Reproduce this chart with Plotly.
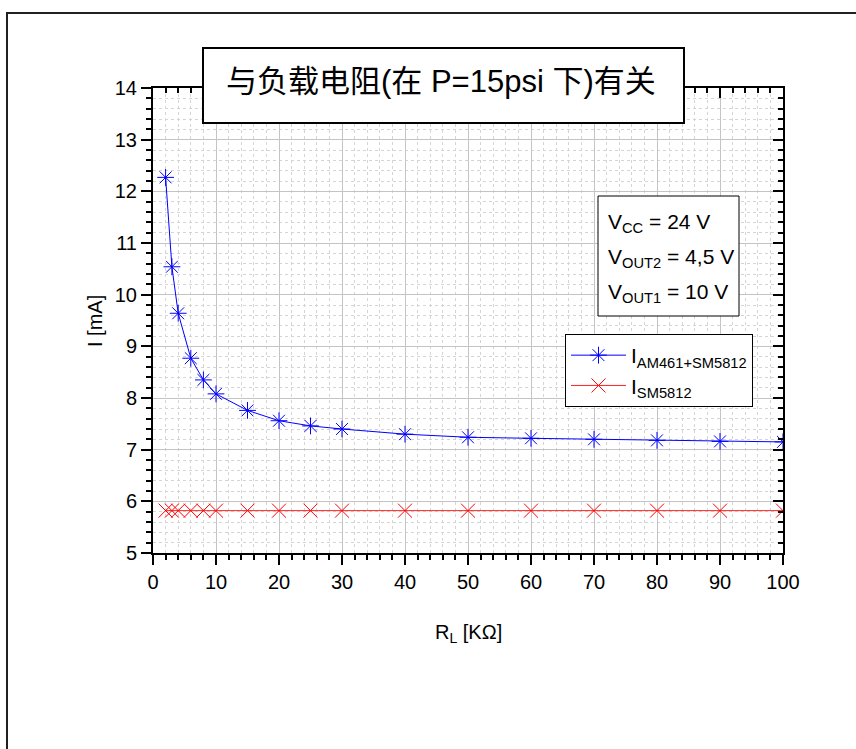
import plotly.graph_objects as go

# ---- data ----
r_load = [2, 3, 4, 6, 8, 10, 15, 20, 25, 30, 40, 50, 60, 70, 80, 90, 100]
i_am461_sm5812 = [12.27, 10.54, 9.64, 8.77, 8.35, 8.08, 7.76, 7.56, 7.46, 7.40,
                  7.30, 7.24, 7.22, 7.20, 7.18, 7.16, 7.15]
i_sm5812 = [5.82] * len(r_load)

x_ticks = [0, 10, 20, 30, 40, 50, 60, 70, 80, 90, 100]
y_ticks = [5, 6, 7, 8, 9, 10, 11, 12, 13, 14]

title_text = "与负载电阻(在 P=15psi 下)有关"
x_title = "R<sub>L</sub> [KΩ]"
y_title = "I [mA]"
info_lines = ["V<sub>CC</sub> = 24 V", "V<sub>OUT2</sub> = 4,5 V", "V<sub>OUT1</sub> = 10 V"]

W, H = 856, 749
ML, MR, MT, MB = 153, 73, 88, 196
PW, PH = W - ML - MR, H - MT - MB

def px(xp):
    return (xp - ML) / PW

def py(yp):
    return (H - MB - yp) / PH

FONT = "Liberation Sans, Arial, Noto Sans CJK SC, sans-serif"

fig = go.Figure()
fig.add_trace(go.Scatter(
    x=r_load, y=i_am461_sm5812, mode="lines+markers",
    name="I<sub>AM461+SM5812</sub>",
    line=dict(color="#0000ff", width=1),
    marker=dict(symbol="asterisk-open", size=14, color="#0000ff",
                line=dict(color="#0000ff", width=1)),
))
fig.add_trace(go.Scatter(
    x=r_load, y=i_sm5812, mode="lines+markers",
    name="I<sub>SM5812</sub>",
    line=dict(color="#ff2020", width=1),
    marker=dict(symbol="x-thin-open", size=14, color="#ff0000",
                line=dict(color="#ff0000", width=1)),
))
# empty traces to realise mirrored (top/right) axes with inward ticks
fig.add_trace(go.Scatter(x=[None], y=[None], xaxis="x2", yaxis="y", showlegend=False, hoverinfo="skip"))
fig.add_trace(go.Scatter(x=[None], y=[None], xaxis="x", yaxis="y2", showlegend=False, hoverinfo="skip"))

axis_common = dict(showline=True, linecolor="black", linewidth=2,
                   tickcolor="black", tickwidth=2, ticklen=10,
                   tickfont=dict(family=FONT, size=20, color="black"),
                   zeroline=False)

fig.update_layout(
    width=W, height=H,
    margin=dict(l=ML, r=MR, t=MT, b=MB),
    paper_bgcolor="white", plot_bgcolor="white",
    font=dict(family=FONT, color="black"),
    showlegend=True,
    xaxis=dict(range=[0, 100], tickvals=x_ticks, ticks="outside",
               showgrid=True, gridcolor="#c4c4c4", gridwidth=1,
               minor=dict(dtick=2, tick0=0, ticks="outside", ticklen=5,
                          tickcolor="black", tickwidth=2,
                          showgrid=True, gridcolor="#d4d4d4", griddash="dot", gridwidth=1),
               **axis_common),
    yaxis=dict(range=[5, 14], tickvals=y_ticks, ticks="outside",
               showgrid=True, gridcolor="#c4c4c4", gridwidth=1,
               minor=dict(dtick=0.2, tick0=5, ticks="outside", ticklen=5,
                          tickcolor="black", tickwidth=2,
                          showgrid=True, gridcolor="#d4d4d4", griddash="dot", gridwidth=1),
               **axis_common),
    xaxis2=dict(range=[0, 100], overlaying="x", side="top", anchor="y",
                tickvals=x_ticks, ticks="inside", showticklabels=False, showgrid=False,
                minor=dict(dtick=2, tick0=0, ticks="inside", ticklen=5,
                           tickcolor="black", tickwidth=2, showgrid=False),
                **axis_common),
    yaxis2=dict(range=[5, 14], overlaying="y", side="right", anchor="x",
                tickvals=y_ticks, ticks="inside", showticklabels=False, showgrid=False,
                minor=dict(dtick=0.2, tick0=5, ticks="inside", ticklen=5,
                           tickcolor="black", tickwidth=2, showgrid=False),
                **axis_common),
    legend=dict(x=px(565), y=py(334), xanchor="left", yanchor="top",
                bgcolor="white", bordercolor="black", borderwidth=1,
                font=dict(family=FONT, size=21, color="black"),
                itemwidth=55, tracegroupgap=0),
)

shapes = [
    # outer frame (extends beyond the picture on right/bottom)
    dict(type="rect", xref="paper", yref="paper",
         x0=px(7), x1=px(W + 40), y0=py(H + 40), y1=py(13),
         line=dict(color="#202020", width=2), fillcolor="rgba(0,0,0,0)", layer="below"),
    # title box
    dict(type="rect", xref="paper", yref="paper",
         x0=px(203), x1=px(684), y0=py(123), y1=py(48),
         line=dict(color="black", width=2), fillcolor="white", layer="above"),
    # info box
    dict(type="rect", xref="paper", yref="paper",
         x0=px(598), x1=px(739), y0=py(316), y1=py(196),
         line=dict(color="black", width=1), fillcolor="white", layer="above"),
]
fig.update_layout(shapes=shapes)

annotations = [
    dict(text=title_text, xref="paper", yref="paper", x=px(441), y=py(82),
         xanchor="center", yanchor="middle", showarrow=False,
         font=dict(family=FONT, size=31, color="black")),
    dict(text=x_title, xref="paper", yref="paper", x=px(468), y=py(633),
         xanchor="center", yanchor="middle", showarrow=False,
         font=dict(family=FONT, size=20, color="black")),
    dict(text=y_title, xref="paper", yref="paper", x=px(95), y=py(321),
         xanchor="center", yanchor="middle", showarrow=False, textangle=-90,
         font=dict(family=FONT, size=20, color="black")),
]
for k, line in enumerate(info_lines):
    annotations.append(dict(text=line, xref="paper", yref="paper",
                            x=px(606), y=py(223 + 35 * k),
                            xanchor="left", yanchor="middle", showarrow=False,
                            font=dict(family=FONT, size=21, color="black")))
fig.update_layout(annotations=annotations)

fig.write_html("out.html", config={"displayModeBar": False},
               post_script="document.body.style.margin='0';")
